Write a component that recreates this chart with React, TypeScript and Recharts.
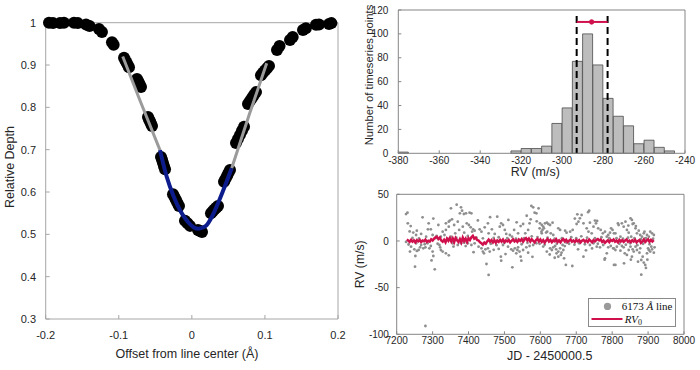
import React from 'react'
import {
  ComposedChart,
  Scatter,
  Line,
  Bar,
  XAxis,
  YAxis,
  ReferenceLine,
  ReferenceDot,
  Label
} from 'recharts'

const SANS = '"Liberation Sans", Arial, Helvetica, sans-serif'
const SERIF = '"Liberation Serif", "Times New Roman", serif'
const INK = '#262626'
const RED = '#d0104c'
const BOX_LEFT = '#a6a6a6'
const BOX_RIGHT = '#858585'

// ---------- line profile (left panel) ----------
const profileXTicks = [-0.2, -0.1, 0, 0.1, 0.2]
const profileYTicks = [0.3, 0.4, 0.5, 0.6, 0.7, 0.8, 0.9, 1]

// observed samples (clusters of points along the profile)
const profileSamples: [number, number][] = [
  [-0.1955, 1.0], [-0.19, 0.999], [-0.1804, 0.999], [-0.175, 1.0], [-0.1613, 1.0], [-0.156, 0.999],
  [-0.1448, 0.996], [-0.14, 0.992], [-0.1271, 0.985], [-0.123, 0.978], [-0.1093, 0.954], [-0.107, 0.948],
  [-0.0928, 0.917], [-0.091, 0.911], [-0.0894, 0.906], [-0.0877, 0.9], [-0.086, 0.895],
  [-0.0751, 0.867], [-0.0737, 0.862], [-0.0723, 0.8575], [-0.071, 0.853], [-0.0696, 0.848],
  [-0.06, 0.777], [-0.0587, 0.772], [-0.0573, 0.767], [-0.0559, 0.761], [-0.0545, 0.756],
  [-0.0422, 0.683], [-0.0408, 0.676], [-0.0395, 0.6685], [-0.0381, 0.661], [-0.0367, 0.654],
  [-0.0258, 0.595], [-0.0238, 0.588], [-0.0217, 0.581], [-0.0197, 0.574], [-0.0176, 0.567],
  [-0.0094, 0.532], [-0.0059, 0.526], [-0.0025, 0.52],
  [0.0084, 0.51], [0.0112, 0.508], [0.0139, 0.5055],
  [0.0262, 0.55], [0.0286, 0.5545], [0.031, 0.559], [0.0334, 0.563], [0.0358, 0.567],
  [0.044, 0.624], [0.046, 0.631], [0.0481, 0.638], [0.0501, 0.645], [0.0522, 0.652],
  [0.0604, 0.716], [0.0631, 0.7255], [0.0659, 0.735], [0.0686, 0.7445], [0.0714, 0.754],
  [0.0768, 0.808], [0.0795, 0.815], [0.0823, 0.822], [0.085, 0.829], [0.0878, 0.836],
  [0.0946, 0.876], [0.0973, 0.8815], [0.1001, 0.887], [0.1028, 0.8925], [0.1056, 0.898],
  [0.1165, 0.9355], [0.12, 0.945], [0.1343, 0.959], [0.138, 0.966], [0.1521, 0.983], [0.156, 0.987],
  [0.1699, 0.995], [0.174, 0.996], [0.1877, 0.997], [0.191, 0.999]
]

const fitWingLeft: [number, number][] = [[-0.0946, 0.92], [-0.07, 0.812], [-0.0436, 0.699]]
const fitWingRight: [number, number][] = [[0.0545, 0.656], [0.078, 0.78], [0.1024, 0.904]]
const fitCore: [number, number][] = [
  [-0.0436, 0.699], [-0.0344, 0.636], [-0.025, 0.59], [-0.0162, 0.557], [-0.008, 0.535],
  [-0.0025, 0.524], [0.003, 0.516], [0.0088, 0.513], [0.015, 0.516], [0.0203, 0.522],
  [0.026, 0.537], [0.0317, 0.557], [0.043, 0.604], [0.0545, 0.656]
]

// ---------- RV histogram (top right) ----------
const rvXTicks = [-380, -360, -340, -320, -300, -280, -260, -240]
const rvYTicks = [0, 20, 40, 60, 80, 100, 120]
const rvBinCenters = [
  -377.5, -372.5, -367.5, -362.5, -357.5, -352.5, -347.5, -342.5, -337.5, -332.5, -327.5,
  -322.5, -317.5, -312.5, -307.5, -302.5, -297.5, -292.5, -287.5, -282.5, -277.5, -272.5,
  -267.5, -262.5, -257.5, -252.5, -247.5
]
const rvBinCounts = [1, 0, 0, 0, 0, 0, 0, 0, 0, 0, 0, 2, 4, 4, 6, 25, 38, 77, 100, 74, 46, 31, 23, 8, 11, 5, 2]
const rvLow = -292.9
const rvHigh = -277.8
const rvCentre = -285.6
const rvBarLevel = 110
const rvDashTop = 115

// ---------- RV time series (bottom right) ----------
const jdTicks = [7200, 7300, 7400, 7500, 7600, 7700, 7800, 7900, 8000]
const tsYTicks = [-100, -50, 0, 50]

const dotsA: [number, number][] = [
  [7230, 30.3], [7231, 18.9], [7239, 16.0], [7256, 11.0], [7272, 25.3], [7289, 18.9], [7287, 12.5], [7295, 12.5],
  [7316, 17.1], [7337, 18.9], [7351, 35.0], [7367, 38.9], [7379, 36.0], [7382, 32.5], [7376, 29.6], [7387, 28.9],
  [7393, 29.6], [7395, 18.9], [7345, 20.7], [7348, 21.8], [7354, 23.2], [7345, 15.3], [7337, 11.8], [7333, 6.4],
  [7323, 4.6], [7311, 5.3], [7300, 6.4], [7282, 4.6], [7254, 6.4], [7268, 7.5],
  [7240, -6.1], [7237, -11.4], [7249, -9.0], [7256, -10.7], [7261, -9.7], [7265, -6.8], [7252, -16.1], [7251, -27.5],
  [7274, -7.9], [7280, -6.8], [7291, -7.9], [7295, -5.4], [7300, -11.4], [7302, -16.1], [7319, -4.3], [7321, -6.8],
  [7323, -9.7], [7328, -11.4], [7337, -13.2], [7345, -15.4], [7306, -30.4], [7280, -91.1], [7356, -2.5], [7370, -4.3],
  [7379, -2.5], [7388, -1.8], [7398, -2.5], [7254, -2.5], [7268, -4.3], [7286, -2.5],
  [7360, 17.1], [7370, 20.7], [7384, 15.3], [7374, 11.8], [7388, 8.9], [7363, 8.2], [7351, 4.6], [7398, 5.3],
  [7328, 10.0], [7244, 3.2], [7262, 2.8], [7278, -3.5], [7308, 3.0], [7314, -3.0], [7342, 2.5], [7358, -6.0],
  [7366, 3.5], [7392, -5.5], [7233, -3.8], [7246, 9.0], [7302, 24.0], [7226, 28.8], [7236, 10.2], [7297, -20.8],
  [7226, -1.0]
]
const dotsB: [number, number][] = [
  [7403, 30.3], [7408, 29.6], [7401, 17.1], [7406, 14.6], [7413, 12.5], [7410, 10.0], [7417, 11.0], [7431, 12.5],
  [7436, 10.0], [7445, 14.6], [7454, 18.9], [7456, 8.2], [7465, 12.5], [7473, 7.5], [7480, 26.0], [7487, 15.3],
  [7491, 18.9], [7496, 17.1], [7501, 11.8], [7505, 7.5], [7515, 6.4], [7521, 4.6], [7527, 11.8], [7538, 8.2],
  [7545, 16.0], [7552, 18.2], [7558, 8.2], [7566, 11.8], [7570, 18.9], [7573, 23.2], [7575, 37.5], [7580, 36.0],
  [7584, 30.3], [7589, 29.6], [7595, 35.0], [7598, 13.5],
  [7428, -6.1], [7436, -7.9], [7440, -11.4], [7443, -13.2], [7447, -9.0], [7454, -7.9], [7459, -11.4], [7450, -24.7],
  [7456, -36.4], [7490, -16.8], [7491, -21.1], [7496, -4.3], [7510, -6.1], [7519, -9.0], [7524, -10.4], [7529, -7.9],
  [7533, -13.2], [7536, -9.7], [7538, -6.8], [7542, -11.4], [7545, -16.8], [7547, -21.1], [7552, -9.7], [7561, -6.8],
  [7570, -5.4], [7522, -28.2], [7580, -4.3], [7589, -2.5], [7598, -3.1],
  [7408, -4.3], [7417, -2.5], [7422, 3.5], [7440, 2.8], [7462, -3.0], [7470, 3.2], [7478, -4.5], [7484, 4.0],
  [7500, -2.0], [7508, 3.0], [7532, 2.5], [7548, -3.5], [7555, 3.0], [7564, -2.0], [7576, 5.0], [7592, 4.2],
  [7414, -12.0], [7470, -9.5], [7484, -8.5], [7503, -14.0], [7566, -12.5], [7578, -17.0], [7426, 22.0], [7460, 25.5],
  [7511, 22.5], [7534, 20.0], [7562, 27.0], [7590, 21.0]
]
const dotsC: [number, number][] = [
  [7603, 10.0], [7599, 18.9], [7604, 17.1], [7608, 15.3], [7613, 18.9], [7618, 19.6], [7622, 18.2], [7627, 17.1],
  [7634, 19.6], [7606, 11.8], [7610, 13.5], [7604, 8.2], [7619, 10.0], [7629, 8.2], [7636, 6.4], [7650, 13.5],
  [7655, 11.8], [7669, 11.0], [7673, 8.9], [7683, 10.0], [7690, 11.8], [7701, 18.2], [7706, 20.7], [7710, 24.3],
  [7715, 27.8], [7720, 18.9], [7729, 13.5], [7734, 10.0], [7736, 32.5], [7738, 19.6], [7743, 8.2], [7748, 15.3],
  [7752, 21.8], [7755, 18.9], [7761, 13.5], [7768, 11.8], [7774, 8.2], [7780, 10.0], [7785, 4.6], [7789, 6.4],
  [7794, 8.9], [7797, 13.5],
  [7618, -11.4], [7627, -7.9], [7632, -9.7], [7636, -6.8], [7641, -5.4], [7644, -9.0], [7645, -13.2], [7650, -11.4],
  [7655, -7.9], [7657, -15.0], [7659, -12.5], [7664, -9.7], [7666, -18.6], [7671, -25.7], [7650, -16.8], [7662, -4.3],
  [7720, -16.8], [7738, -4.3], [7748, -2.5], [7757, -6.1], [7766, -6.8], [7775, -4.3], [7780, -18.6], [7785, -13.2],
  [7789, -6.8], [7796, -5.4],
  [7689, -26.8], [7673, -2.0], [7612, -4.0], [7620, 3.5], [7640, 2.5], [7646, -3.0], [7660, 3.0], [7668, -5.5],
  [7680, -3.0], [7686, 4.0], [7695, -4.0], [7700, 3.0], [7708, -2.5], [7714, 5.0], [7724, -3.5], [7730, 3.5],
  [7744, -8.0], [7752, 3.0], [7760, -3.0], [7770, 4.0], [7779, -20.0], [7792, 3.0], [7705, -9.0], [7727, -10.0],
  [7696, 24.0], [7703, 28.5], [7733, 30.8], [7758, 21.5], [7640, -18.0], [7626, -14.5], [7608, -6.0], [7616, 9.0]
]
const dotsD: [number, number][] = [
  [7801, 11.8], [7805, 8.2], [7803, -7.9], [7805, -25.7],
  [7818, 17.1], [7827, 18.9], [7832, 15.3], [7837, 20.7], [7841, 11.8], [7846, 8.9], [7851, 24.3], [7855, 22.5],
  [7857, 18.2], [7860, 18.9], [7865, 13.5], [7869, 8.2], [7874, 11.0], [7878, 6.4], [7883, 4.6], [7888, 8.2],
  [7892, 2.8], [7897, 6.4], [7902, 4.6], [7906, 10.0], [7911, 8.2], [7916, 6.4], [7809, 8.2], [7823, 4.6], [7853, 4.6],
  [7804, -7.9], [7809, -9.7], [7813, -6.1], [7823, -10.4], [7827, -5.4], [7832, -6.8], [7835, -13.2], [7841, -15.0],
  [7846, -9.7], [7851, -6.1], [7855, -16.8], [7857, -9.0], [7860, -11.4], [7865, -6.1], [7869, -9.7], [7872, -22.2],
  [7876, -12.5], [7878, -7.9], [7881, -20.4], [7885, -16.8], [7888, -23.2], [7892, -25.7], [7894, -28.9], [7897, -13.2],
  [7900, -7.9], [7902, -9.7], [7906, -11.4], [7909, -6.1], [7911, -9.0], [7916, -12.5], [7918, -6.8], [7881, -36.1],
  [7809, -25.7], [7898, -20.0], [7833, -24.0],
  [7812, 3.0], [7820, -3.0], [7830, 2.5], [7838, -4.0], [7844, 3.5], [7850, -2.5], [7862, 3.0], [7870, -4.5],
  [7880, 2.0], [7886, -3.0], [7894, 3.0], [7904, -3.5], [7914, 2.5], [7816, 18.8], [7866, 16.0], [7890, 10.0],
  [7845, 16.5], [7852, -20.0]
]

const rv0: [number, number][] = [
  [7228, 1.5], [7232, 0.5], [7236, -1.0], [7240, 1.2], [7244, -0.8], [7248, 0.6], [7252, -1.5], [7256, 0.8],
  [7260, -0.5], [7264, 1.0], [7268, -1.2], [7272, 0.4], [7276, -0.3], [7280, 1.5], [7284, -1.0], [7288, 0.2],
  [7292, -0.6], [7296, 1.8], [7300, 0.5], [7304, 2.5], [7308, 3.8], [7312, 4.5], [7316, 2.0], [7320, 3.5],
  [7324, 0.5], [7328, -0.8], [7332, 1.2], [7336, -1.5], [7340, 2.5], [7344, 0.2], [7348, 3.0], [7352, -0.5],
  [7356, 2.8], [7360, -1.2], [7364, 3.2], [7368, 0.8], [7372, -1.0], [7376, 2.0], [7380, -1.5], [7384, 3.5],
  [7388, 0.0], [7392, 2.5], [7396, -1.0], [7400, 3.0], [7404, 1.0], [7408, 4.0], [7412, 5.5], [7416, 2.5],
  [7420, 3.5], [7424, 1.0], [7428, 0.5], [7432, -1.5], [7436, -2.5], [7440, -4.0], [7444, -1.8], [7448, -3.0],
  [7452, -0.5], [7456, 1.5], [7460, -0.8], [7464, 1.0], [7468, -1.5], [7472, 0.8], [7476, -2.0], [7480, 0.5],
  [7484, -1.0], [7488, 1.2], [7492, -0.8], [7496, 1.5], [7500, -1.2], [7504, 0.6], [7508, -0.5], [7512, 1.0],
  [7516, -1.5], [7520, 0.2], [7524, 1.8], [7528, -0.5], [7532, 0.8], [7536, -1.0], [7540, 1.5], [7544, 0.0],
  [7548, 2.0], [7552, -0.8], [7556, 1.5], [7560, 3.0], [7564, 0.5], [7568, 2.5], [7572, -0.5], [7576, 1.8],
  [7580, 0.2], [7584, -1.5], [7588, 1.0], [7592, 2.2], [7596, -0.5], [7600, 1.5], [7604, -1.0], [7608, 0.8],
  [7612, -1.8], [7616, 0.5], [7620, 2.0], [7624, -0.5], [7628, 1.0], [7632, -1.2], [7636, 0.6], [7640, -0.3],
  [7644, 1.8], [7648, -1.0], [7652, 0.5], [7656, -1.5], [7660, 0.8], [7664, 2.0], [7668, -0.5], [7672, 1.2],
  [7676, -1.0], [7680, 0.3], [7684, 1.5], [7688, -0.8], [7692, 0.5], [7696, -1.2], [7700, 1.0], [7704, -0.5],
  [7708, 0.8], [7712, -1.5], [7716, 0.2], [7720, 1.2], [7724, -0.8], [7728, 0.5], [7732, -1.0], [7736, 1.5],
  [7740, 0.0], [7744, -1.5], [7748, 0.8], [7752, -0.5], [7756, 1.0], [7760, 2.0], [7764, 0.5], [7768, 1.5],
  [7772, -1.0], [7776, 0.3], [7780, -2.0], [7784, -0.5], [7788, 0.8], [7792, -1.2], [7796, 1.0], [7800, 0.0],
  [7804, 1.5], [7808, -0.8], [7812, 0.5], [7816, -1.5], [7820, 1.2], [7824, -0.5], [7828, 0.8], [7832, -1.0],
  [7836, 0.5], [7840, 1.5], [7844, -0.8], [7848, 0.3], [7852, -1.2], [7856, 0.8], [7860, -0.5], [7864, 1.2],
  [7868, -1.5], [7872, 0.0], [7876, 1.0], [7880, -2.0], [7884, -0.5], [7888, 1.5], [7892, -1.0], [7896, 0.5],
  [7900, 1.8], [7904, -0.8], [7908, 1.2], [7912, -0.5], [7916, 1.0]
]

const toXY = (rows: [number, number][]) => rows.map(([x, y]) => ({ x, y }))

const histData = rvBinCenters.map((x, i) => ({ x, y: rvBinCounts[i] }))
const rvDots = toXY([...dotsA, ...dotsB, ...dotsC, ...dotsD])

// axis titles drawn from the axis viewBox
function xTitle(text: string, size: number, shift: number, gap: number) {
  return (props: any) => {
    const vb = props.viewBox || {}
    const x = vb.x + vb.width / 2 + shift
    const y = vb.y + vb.height - gap
    return (
      <text x={x} y={y} textAnchor="middle" fill={INK} fontSize={size} fontFamily={SANS}>
        {text}
      </text>
    )
  }
}

function yTitle(text: string, size: number, centre: number, lift: number) {
  return (props: any) => {
    const vb = props.viewBox || {}
    const x = vb.x + centre
    const y = vb.y + vb.height / 2 - lift
    return (
      <text
        x={x}
        y={y}
        transform={`rotate(-90 ${x} ${y})`}
        textAnchor="middle"
        dominantBaseline="central"
        fill={INK}
        fontSize={size}
        fontFamily={SANS}
      >
        {text}
      </text>
    )
  }
}

function ProfilePanel() {
  const tick = { fill: INK, fontSize: 11, fontFamily: SANS }
  return (
    <ComposedChart width={350} height={370} margin={{ top: 21.7, right: 11, bottom: 0, left: 0 }}>
      <XAxis xAxisId="b" dataKey="x" type="number" domain={[-0.2, 0.2]} ticks={profileXTicks}
        height={51} tickSize={-4} tickMargin={16} stroke={BOX_LEFT} tick={tick}>
        <Label content={xTitle('Offset from line center (Å)', 12.5, -4.8, 12)} />
      </XAxis>
      <XAxis xAxisId="t" orientation="top" dataKey="x" type="number" domain={[-0.2, 0.2]} ticks={profileXTicks}
        allowDataOverflow height={1} tickSize={-4} tick={false} stroke={BOX_LEFT} />
      <YAxis yAxisId="l" dataKey="y" type="number" domain={[0.3, 1]} ticks={profileYTicks}
        width={45.7} tickSize={-4} tickMargin={13.7} stroke={BOX_LEFT} tick={tick}>
        <Label content={yTitle('Relative Depth', 12.5, 10.5, 3.8)} />
      </YAxis>
      <YAxis yAxisId="r" orientation="right" dataKey="y" type="number" domain={[0.3, 1]} ticks={profileYTicks}
        allowDataOverflow width={1} tickSize={-4} tick={false} stroke={BOX_LEFT} />
      <Scatter xAxisId="b" yAxisId="l" data={toXY(profileSamples)} isAnimationActive={false}
        shape={(p: any) => <circle cx={p.cx} cy={p.cy} r={6} fill="#000" />} />
      <Line xAxisId="b" yAxisId="l" data={toXY(fitWingLeft)} dataKey="y" type="linear" stroke="#9b9b9b"
        strokeWidth={3} dot={false} activeDot={false} isAnimationActive={false} zIndex={700} />
      <Line xAxisId="b" yAxisId="l" data={toXY(fitWingRight)} dataKey="y" type="linear" stroke="#9b9b9b"
        strokeWidth={3} dot={false} activeDot={false} isAnimationActive={false} zIndex={700} />
      <Line xAxisId="b" yAxisId="l" data={toXY(fitCore)} dataKey="y" type="monotone" stroke="#0d1c8c"
        strokeWidth={4} dot={false} activeDot={false} isAnimationActive={false} zIndex={710} />
    </ComposedChart>
  )
}

function HistogramPanel() {
  const tick = { fill: INK, fontSize: 10, fontFamily: SANS }
  return (
    <ComposedChart width={350} height={185} data={histData} barCategoryGap={0} barGap={0}
      margin={{ top: 9, right: 14, bottom: 0, left: 0 }}>
      <XAxis xAxisId="b" dataKey="x" type="number" domain={[-380, -240]} ticks={rvXTicks}
        height={31.7} tickSize={-3} tickMargin={7} stroke={BOX_RIGHT} tick={tick}>
        <Label content={xTitle('RV (m/s)', 12.5, -6.3, 9)} />
      </XAxis>
      <XAxis xAxisId="t" orientation="top" dataKey="x" type="number" domain={[-380, -240]} ticks={rvXTicks}
        allowDataOverflow height={1} tickSize={-3} tick={false} stroke={BOX_RIGHT} />
      <YAxis yAxisId="l" dataKey="y" type="number" domain={[0, 120]} ticks={rvYTicks}
        width={48.3} tickSize={-3} tickMargin={13} stroke={BOX_RIGHT} tick={tick}>
        <Label content={yTitle('Number of timeseries points', 11.3, 19, 6.6)} />
      </YAxis>
      <YAxis yAxisId="r" orientation="right" dataKey="y" type="number" domain={[0, 120]} ticks={rvYTicks}
        allowDataOverflow width={1} tickSize={-3} tick={false} stroke={BOX_RIGHT} />
      <Bar xAxisId="b" yAxisId="l" dataKey="y" fill="#bdbdbd" stroke="#4a4a4a" strokeWidth={0.8}
        isAnimationActive={false} />
      <ReferenceLine xAxisId="b" yAxisId="l" segment={[{ x: rvLow, y: rvDashTop }, { x: rvLow, y: 0 }]}
        stroke="#000" strokeWidth={2} strokeDasharray="7 4" />
      <ReferenceLine xAxisId="b" yAxisId="l" segment={[{ x: rvHigh, y: rvDashTop }, { x: rvHigh, y: 0 }]}
        stroke="#000" strokeWidth={2} strokeDasharray="7 4" />
      <ReferenceLine xAxisId="b" yAxisId="l" segment={[{ x: rvLow, y: rvBarLevel }, { x: rvHigh, y: rvBarLevel }]}
        stroke={RED} strokeWidth={2} />
      <ReferenceDot xAxisId="b" yAxisId="l" x={rvCentre} y={rvBarLevel} r={2.2} fill={RED} stroke={RED} />
    </ComposedChart>
  )
}

function TimeSeriesPanel() {
  const tick = { fill: INK, fontSize: 10, fontFamily: SANS }
  return (
    <ComposedChart width={350} height={185} margin={{ top: 8.3, right: 15, bottom: 0, left: 0 }}>
      <XAxis xAxisId="b" dataKey="x" type="number" domain={[7200, 8000]} ticks={jdTicks}
        height={35.7} tickSize={-3} tickMargin={5.5} stroke={BOX_RIGHT} tick={tick}>
        <Label content={xTitle('JD - 2450000.5', 12.5, 9.3, 9.7)} />
      </XAxis>
      <XAxis xAxisId="t" orientation="top" dataKey="x" type="number" domain={[7200, 8000]} ticks={jdTicks}
        allowDataOverflow height={1} tickSize={-3} tick={false} stroke={BOX_RIGHT} />
      <YAxis yAxisId="l" dataKey="y" type="number" domain={[-100, 50]} ticks={tsYTicks}
        width={46.7} tickSize={-3} tickMargin={10.8} stroke={BOX_RIGHT} tick={tick}>
        <Label content={yTitle('RV (m/s)', 12.2, 10.5, 0)} />
      </YAxis>
      <YAxis yAxisId="r" orientation="right" dataKey="y" type="number" domain={[-100, 50]} ticks={tsYTicks}
        allowDataOverflow width={1} tickSize={-3} tick={false} stroke={BOX_RIGHT} />
      <Scatter xAxisId="b" yAxisId="l" data={rvDots} isAnimationActive={false}
        shape={(p: any) => <circle cx={p.cx} cy={p.cy} r={1.4} fill="#8e8e8e" />} />
      <Line xAxisId="b" yAxisId="l" data={toXY(rv0)} dataKey="y" type="linear" stroke={RED}
        strokeWidth={2.5} dot={false} activeDot={false} isAnimationActive={false} zIndex={700} />
    </ComposedChart>
  )
}

function TimeSeriesLegend() {
  return (
    <div style={{
      position: 'absolute', left: 587.7, top: 298.3, width: 86.3, height: 26.4,
      border: '1px solid #8a8a8a', background: '#fff', fontFamily: SERIF, fontSize: 11, color: '#111'
    }}>
      <svg width={86} height={26} style={{ position: 'absolute', left: 0, top: 0 }}>
        <circle cx={18.5} cy={7.4} r={3.6} fill="#9a9a9a" />
        <line x1={2.5} y1={20} x2={33.5} y2={20} stroke={RED} strokeWidth={2} />
      </svg>
      <div style={{ position: 'absolute', left: 33, top: 1, lineHeight: '12px', whiteSpace: 'nowrap' }}>
        6173 <i>Å</i> line
      </div>
      <div style={{ position: 'absolute', left: 36, top: 13.5, lineHeight: '12px', whiteSpace: 'nowrap' }}>
        <i>RV</i><sub style={{ fontSize: 8, verticalAlign: '-2px' }}>0</sub>
      </div>
    </div>
  )
}

export default function App() {
  return (
    <div style={{ position: 'absolute', left: 0, top: 0, width: 700, height: 370, background: '#fff', fontFamily: SANS }}>
      <div style={{ position: 'absolute', left: 0, top: 0 }}>
        <ProfilePanel />
      </div>
      <div style={{ position: 'absolute', left: 350, top: 0 }}>
        <HistogramPanel />
      </div>
      <div style={{ position: 'absolute', left: 350, top: 185 }}>
        <TimeSeriesPanel />
      </div>
      <TimeSeriesLegend />
    </div>
  )
}
